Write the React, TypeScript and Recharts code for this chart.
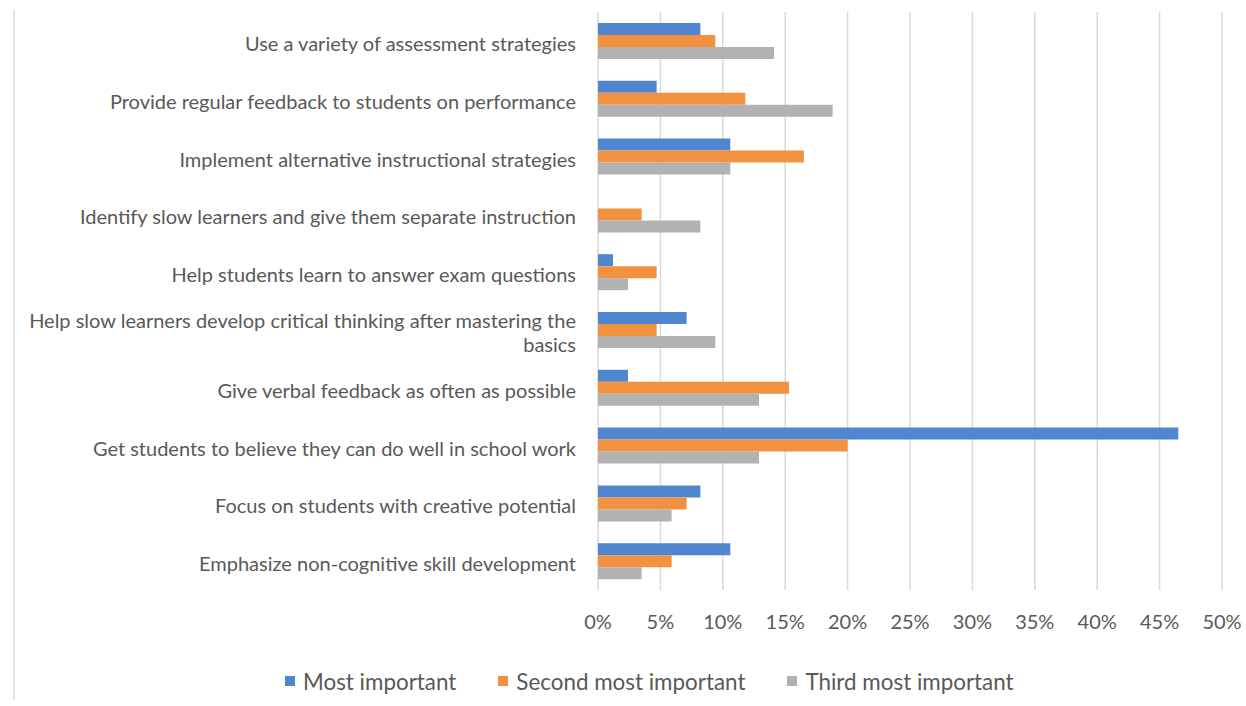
import React from 'react';
import { BarChart, Bar, XAxis, YAxis, CartesianGrid, Legend } from 'recharts';

const categories = [
  'Use a variety of assessment strategies',
  'Provide regular feedback to students on performance',
  'Implement alternative instructional strategies',
  'Identify slow learners and give them separate instruction',
  'Help students learn to answer exam questions',
  'Help slow learners develop critical thinking after mastering the basics',
  'Give verbal feedback as often as possible',
  'Get students to believe they can do well in school work',
  'Focus on students with creative potential',
  'Emphasize non-cognitive skill development',
];

const mostImportant = [8.2, 4.7, 10.6, 0, 1.2, 7.1, 2.4, 46.5, 8.2, 10.6];
const secondMost = [9.4, 11.8, 16.5, 3.5, 4.7, 4.7, 15.3, 20.0, 7.1, 5.9];
const thirdMost = [14.1, 18.8, 10.6, 8.2, 2.4, 9.4, 12.9, 12.9, 5.9, 3.5];

const xTicks = [0, 5, 10, 15, 20, 25, 30, 35, 40, 45, 50];

const series = [
  { key: 'most', name: 'Most important', color: '#4F86CF' },
  { key: 'second', name: 'Second most important', color: '#F29140' },
  { key: 'third', name: 'Third most important', color: '#B2B2B2' },
];

const data = categories.map((name, i) => ({
  name,
  most: mostImportant[i],
  second: secondMost[i],
  third: thirdMost[i],
}));

const FONT = 'Lato, "Open Sans", sans-serif';
const TEXT_COLOR = '#595959';
const MAX_CHARS = 66;

// wrap long labels on the last space that fits
function wrapLabel(label: string) {
  if (label.length <= MAX_CHARS) return [label];
  const cut = label.lastIndexOf(' ', MAX_CHARS);
  return [label.slice(0, cut), label.slice(cut + 1)];
}

function CategoryTick(props: any) {
  const { x, y, payload } = props;
  const lines = wrapLabel(payload.value);
  const lineH = 24;
  const start = y + 3 - ((lines.length - 1) * lineH) / 2;
  return (
    <text
      x={x}
      y={start}
      textAnchor="end"
      fill={TEXT_COLOR}
      style={{ fontFamily: FONT, fontSize: 20 }}
    >
      {lines.map((line, i) => (
        <tspan key={i} x={x} y={start + i * lineH} dy="0.355em">
          {line}
        </tspan>
      ))}
    </text>
  );
}

function LegendContent() {
  return (
    <div style={{ display: 'flex', paddingLeft: 285, alignItems: 'center', height: 50 }}>
      {series.map((s) => (
        <div key={s.key} style={{ display: 'flex', alignItems: 'center', marginRight: 42 }}>
          <span style={{ width: 10, height: 10, background: s.color, display: 'inline-block', marginRight: 8 }} />
          <span style={{ fontFamily: FONT, fontSize: 22.4, color: TEXT_COLOR }}>{s.name}</span>
        </div>
      ))}
    </div>
  );
}

export default function App() {
  return (
    <div style={{ position: 'absolute', left: 0, top: 0, width: 1246, height: 706, background: '#fff' }}>
      <div style={{ position: 'absolute', left: 13, top: 10, height: 690, borderLeft: '2px solid #e3e3e3' }} />
      <BarChart
        width={1246}
        height={706}
        data={data}
        layout="vertical"
        margin={{ top: 12, right: 24, left: 0, bottom: 0 }}
        barSize={12}
        barGap={0}
      >
        <CartesianGrid horizontal={false} stroke="#d9d9d9" strokeWidth={1.5} />
        <XAxis
          type="number"
          domain={[0, 50]}
          ticks={xTicks}
          tickFormatter={(v) => `${v}%`}
          axisLine={false}
          tickLine={false}
          tickMargin={19}
          height={66}
          tick={{ fill: TEXT_COLOR, fontSize: 20, fontFamily: FONT }}
        />
        <YAxis
          type="category"
          dataKey="name"
          width={598}
          axisLine={false}
          tickLine={false}
          tickMargin={16}
          interval={0}
          tick={<CategoryTick />}
        />
        <Legend verticalAlign="bottom" height={50} content={<LegendContent />} />
        {series.map((s) => (
          <Bar key={s.key} dataKey={s.key} name={s.name} fill={s.color} isAnimationActive={false} />
        ))}
      </BarChart>
    </div>
  );
}
